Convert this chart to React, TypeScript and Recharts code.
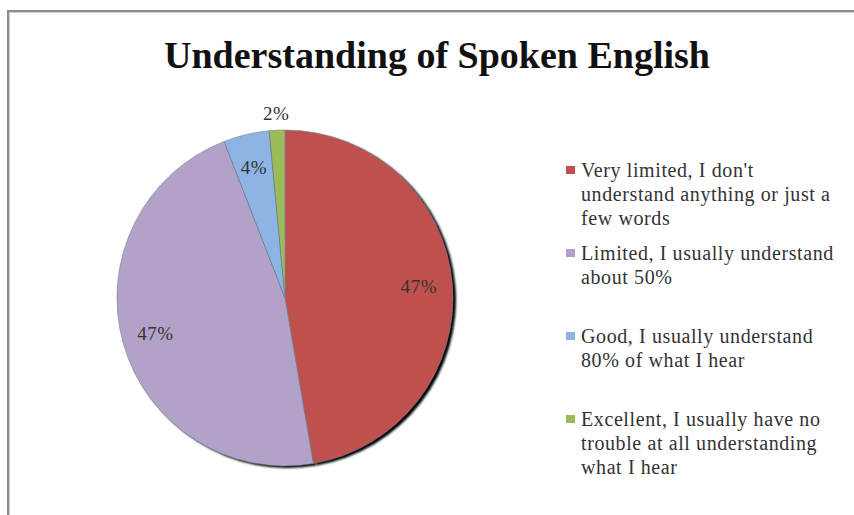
import { PieChart, Pie, Cell, Legend } from "recharts";

const categories = [
  "Very limited, I don't understand anything or just a few words",
  "Limited, I usually understand about 50%",
  "Good, I usually understand 80% of what I hear",
  "Excellent, I usually have no trouble at all understanding what I hear",
];

// legend text, broken the way the original wraps it
const legendLines = [
  ["Very limited, I don't", "understand anything or just a", "few words"],
  ["Limited, I usually understand", "about 50%"],
  ["Good, I usually understand", "80% of what I hear"],
  ["Excellent, I usually have no", "trouble at all understanding", "what I hear"],
];

const shares = [47.3, 46.8, 4.4, 1.5];

const colors = ["#C0504D", "#B3A2C7", "#8DB4E2", "#9BBB59"];

const data = categories.map((name, i) => ({ name, value: shares[i] }));

const RAD = Math.PI / 180;
const serif = "'Liberation Serif', 'DejaVu Serif', serif";

const renderLabel = (props: any) => {
  const { cx, cy, midAngle, outerRadius, percent } = props;
  const r = percent < 0.03 ? outerRadius + 17 : outerRadius * 0.8;
  const x = cx + r * Math.cos(-midAngle * RAD);
  const y = cy + r * Math.sin(-midAngle * RAD);
  return (
    <text
      x={x}
      y={y}
      textAnchor="middle"
      dominantBaseline="central"
      fill="#333"
      fontFamily={serif}
      fontSize={19}
      letterSpacing={0.6}
    >
      {`${Math.round(percent * 100)}%`}
    </text>
  );
};

const LegendBox = () => (
  <div style={{ fontFamily: serif, fontSize: 20, letterSpacing: 0.6, color: "#333" }}>
    {legendLines.map((lines, i) => (
      <div key={i} style={{ height: 83, position: "relative", paddingLeft: 15 }}>
        <div
          style={{
            position: "absolute",
            left: 0,
            top: 8,
            width: 9,
            height: 8,
            background: colors[i],
          }}
        />
        {lines.map((l, j) => (
          <div key={j} style={{ lineHeight: "24px", whiteSpace: "nowrap" }}>
            {l}
          </div>
        ))}
      </div>
    ))}
  </div>
);

export default function App() {
  return (
    <div
      style={{
        position: "absolute",
        left: 0,
        top: 0,
        width: 854,
        height: 515,
        overflow: "hidden",
        background: "#fff",
      }}
    >
      <svg width={0} height={0} style={{ position: "absolute" }}>
        <defs>
          <filter id="pieShadow" x="-10%" y="-10%" width="120%" height="120%">
            <feGaussianBlur stdDeviation="1.2" />
          </filter>
        </defs>
      </svg>
      <div
        style={{
          position: "absolute",
          left: 7,
          top: 10,
          width: 900,
          height: 600,
          border: "2px solid #8a8a8a",
          boxShadow: "inset 1px 1px 1px #ccc",
        }}
      />
      <div
        style={{
          position: "absolute",
          left: 0,
          width: 874,
          top: 33,
          textAlign: "center",
          fontFamily: serif,
          fontWeight: "bold",
          fontSize: 38,
          color: "#111",
        }}
      >
        Understanding of Spoken English
      </div>
      <PieChart width={854} height={515} margin={{ top: 0, right: 0, bottom: 0, left: 0 }}>
        <Pie
          data={data}
          dataKey="value"
          nameKey="name"
          cx={288}
          cy={300}
          outerRadius={168}
          startAngle={90}
          endAngle={-270}
          stroke="none"
          legendType="none"
          isAnimationActive={false}
        >
          {data.map((_, i) => (
            <Cell key={i} fill="#000" filter="url(#pieShadow)" />
          ))}
        </Pie>
        <Pie
          data={data}
          dataKey="value"
          nameKey="name"
          cx={285}
          cy={298}
          outerRadius={168}
          startAngle={90}
          endAngle={-270}
          stroke="#6f7f99"
          strokeWidth={0.6}
          label={renderLabel}
          labelLine={false}
          isAnimationActive={false}
        >
          {data.map((_, i) => (
            <Cell key={i} fill={colors[i]} />
          ))}
        </Pie>
        <Legend
          layout="vertical"
          align="right"
          verticalAlign="top"
          content={<LegendBox />}
          wrapperStyle={{ position: "absolute", left: 566, top: 158, width: 285 }}
        />
      </PieChart>
    </div>
  );
}
